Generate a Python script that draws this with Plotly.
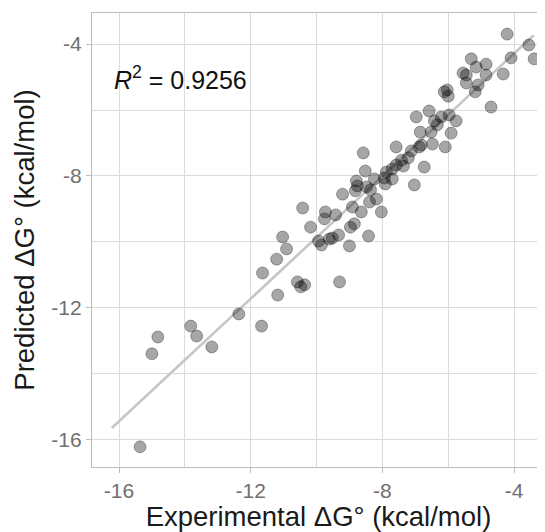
import plotly.graph_objects as go

# Experimental vs predicted binding free energies (kcal/mol)
experimental = [
    -4.21, -3.55, -3.39, -4.09, -5.30, -5.15, -4.85, -4.85, -4.33, -5.55,
    -5.45, -5.45, -5.09, -5.18, -4.70, -6.12, -6.03, -6.00, -6.97, -6.58,
    -6.21, -5.97, -5.76, -6.42, -6.33, -6.85, -6.52, -5.91, -6.48, -6.09,
    -6.82, -6.88, -7.58, -7.12, -7.21, -7.42, -7.70, -7.88, -7.36, -7.58,
    -6.73, -8.58, -8.52, -8.24, -7.94, -7.70, -8.79, -8.76, -8.48, -8.36,
    -7.91, -7.03, -8.82, -9.21, -8.18, -8.39, -8.03, -8.91, -8.64, -10.42,
    -9.73, -9.76, -9.42, -10.18, -8.97, -8.85, -9.94, -9.85, -9.61, -9.52,
    -9.33, -8.42, -9.00, -11.03, -10.91, -11.21, -11.64, -10.58, -10.36, -10.48,
    -11.18, -9.30, -12.36, -11.67, -13.82, -13.64, -14.82, -15.00, -13.18, -15.36,
]
predicted = [
    -3.70, -4.03, -4.45, -4.42, -4.45, -4.70, -4.61, -4.94, -4.91, -4.88,
    -4.94, -5.18, -5.24, -5.45, -5.91, -5.45, -5.39, -5.58, -6.21, -6.03,
    -6.21, -6.15, -6.33, -6.33, -6.45, -6.67, -6.67, -6.70, -7.03, -7.12,
    -7.06, -7.12, -7.12, -7.24, -7.45, -7.52, -7.79, -7.88, -7.70, -7.67,
    -7.73, -7.30, -7.85, -8.09, -8.06, -8.09, -8.15, -8.30, -8.33, -8.42,
    -8.24, -8.27, -8.45, -8.55, -8.70, -8.79, -9.09, -8.94, -9.09, -8.97,
    -9.09, -9.30, -9.18, -9.55, -9.55, -9.45, -9.97, -10.09, -9.91, -9.88,
    -9.79, -9.82, -10.12, -9.85, -10.21, -10.52, -10.94, -11.21, -11.30, -11.36,
    -11.61, -11.21, -12.18, -12.55, -12.55, -12.85, -12.88, -13.39, -13.18, -16.21,
]

# Fitted regression line end points
fit_x = [-16.22, -3.40]
fit_y = [-15.64, -3.73]

tick_vals = [-16, -12, -8, -4]
tick_text = ["-16", "-12", "-8", "-4"]
r2_label = "<i>R</i><sup>2</sup> = 0.9256"
axis_range = [-16.82, -3.06]

FONT = "Liberation Sans, Arial, sans-serif"

fig = go.Figure()
fig.add_trace(go.Scatter(
    x=fit_x, y=fit_y, mode="lines",
    line=dict(color="#c6c6c6", width=2.6),
    hoverinfo="skip", showlegend=False,
))
fig.add_trace(go.Scatter(
    x=experimental, y=predicted, mode="markers",
    marker=dict(size=12, color="rgba(0,0,0,0.35)",
                line=dict(color="rgba(0,0,0,0.35)", width=0.9)),
    showlegend=False,
))

fig.add_annotation(
    x=-16.22, y=-5.03, xref="x", yref="y", text=r2_label,
    showarrow=False, xanchor="left", yanchor="middle",
    font=dict(family=FONT, size=25, color="#111111"),
)

axis_common = dict(
    range=axis_range,
    tickvals=tick_vals, ticktext=tick_text,
    showgrid=True, gridcolor="#dcdcdc", gridwidth=1.3,
    minor=dict(showgrid=True, gridcolor="#dcdcdc", gridwidth=1.3, dtick=2, tick0=-16),
    showline=True, linecolor="#bdbdbd", linewidth=1.3,
    ticks="outside", ticklen=5, tickcolor="#bdbdbd", tickwidth=1.3,
    tickfont=dict(family=FONT, size=21, color="#707070"),
    zeroline=False,
)

fig.update_xaxes(
    **axis_common, mirror=True,
    title=dict(text="Experimental ΔG° (kcal/mol)", standoff=2,
               font=dict(family=FONT, size=27.5, color="#1a1a1a")),
)
fig.update_yaxes(
    **axis_common, mirror=False,
    title=dict(text="Predicted ΔG° (kcal/mol)", standoff=8,
               font=dict(family=FONT, size=27.5, color="#1a1a1a")),
)

# The page body has an 8px margin, so the figure is sized/margined to compensate
fig.update_layout(
    width=537, height=524,
    margin=dict(l=84, r=0, t=5, b=65),
    paper_bgcolor="white", plot_bgcolor="white",
    font=dict(family=FONT),
)

fig.write_html("out.html")
